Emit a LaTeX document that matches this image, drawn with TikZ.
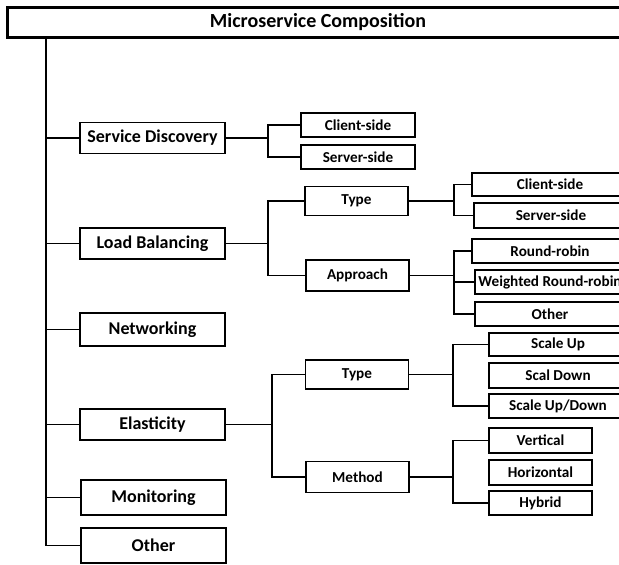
\documentclass[tikz,border=0pt]{standalone}
\usepackage{fontspec}
\setmainfont{Carlito}
\begin{document}
\begin{tikzpicture}[x=1pt,y=-1pt,
  box/.style={draw, line width=1.8pt, inner sep=0pt, font=\bfseries\fontsize{18}{20}\selectfont, minimum width=145pt, minimum height=31pt},
  midbox/.style={draw, line width=1.8pt, inner sep=0pt, font=\bfseries\fontsize{15.2}{17}\selectfont, minimum width=103pt, minimum height=30pt},
  leaf/.style={draw, line width=1.8pt, inner sep=0pt, font=\bfseries\fontsize{15.2}{17}\selectfont, minimum height=24pt},
  conn/.style={line width=1.8pt}]
\useasboundingbox (0,0) rectangle (619,565);
% title
\node[draw, line width=3pt, inner sep=0pt, minimum width=622pt, minimum height=30pt, font=\bfseries\fontsize{20}{22}\selectfont] (title) at (318,22) {Microservice Composition};
% level 1
\node[box] (sd) at (152.5,138) {Service Discovery};
\node[box] (lb) at (152.5,243.5) {Load Balancing};
\node[box, minimum height=33pt] (net) at (152.5,329.5) {Networking};
\node[box] (el) at (152.5,424.5) {Elasticity};
\node[box, minimum height=35pt] (mon) at (153.5,497.5) {Monitoring};
\node[box, minimum height=35pt] (oth) at (153.5,545.5) {Other};
% SD children
\node[leaf, minimum width=114pt] (sdc) at (358,125) {Client-side};
\node[leaf, minimum width=114pt] (sds) at (358,157) {Server-side};
% LB level 2
\node[midbox, minimum height=29pt] (lbt) at (356.5,201) {Type};
\node[midbox, minimum height=31pt] (lba) at (357.5,275.5) {Approach};
% LB type children
\node[leaf, minimum width=156pt, minimum height=23pt] (lbtc) at (550,184.5) {Client-side};
\node[leaf, minimum width=154pt, minimum height=25pt] (lbts) at (551,215.5) {Server-side};
% LB approach children
\node[leaf, minimum width=156pt] (rr) at (550,251) {Round-robin};
\node[leaf, minimum width=150pt] (wrr) at (550,282) {Weighted Round-robin};
\node[leaf, minimum width=150pt] (ao) at (550,314) {Other};
% Elasticity level 2
\node[midbox, minimum height=29pt] (elt) at (357,374.5) {Type};
\node[midbox, minimum height=31pt] (elm) at (357.5,477) {Method};
% Elasticity type children
\node[leaf, minimum width=138pt, minimum height=23pt] (su) at (558,344.5) {Scale Up};
\node[leaf, minimum width=138pt, minimum height=25pt] (sdn) at (558,375.5) {Scal Down};
\node[leaf, minimum width=138pt] (sud) at (558,406) {Scale Up/Down};
% Method children
\node[leaf, minimum width=103pt, minimum height=25pt] (mv) at (540.5,440.5) {Vertical};
\node[leaf, minimum width=103pt, minimum height=25pt] (mh) at (540.5,472.5) {Horizontal};
\node[leaf, minimum width=103pt] (mhy) at (540.5,503) {Hybrid};
% junction coordinates
\coordinate (tr) at (46,0);
\coordinate (j1) at (268,0);
\coordinate (j2) at (454,0);
\coordinate (j3) at (272,0);
\coordinate (j4) at (453,0);
% trunk
\draw[conn] (title.south -| tr) -- (oth.west -| tr) -- (oth.west);
\foreach \n in {sd,lb,net,el,mon} \draw[conn] (\n.west -| tr) -- (\n.west);
% SD
\draw[conn] (sd.east) -- (sd.east -| j1);
\draw[conn] (sdc.west) -- (sdc.west -| j1) -- (sds.west -| j1) -- (sds.west);
% LB
\draw[conn] (lb.east) -- (lb.east -| j1);
\draw[conn] (lbt.west) -- (lbt.west -| j1) -- (lba.west -| j1) -- (lba.west);
\draw[conn] (lbt.east) -- (lbt.east -| j2);
\draw[conn] (lbtc.west) -- (lbtc.west -| j2) -- (lbts.west -| j2) -- (lbts.west);
\draw[conn] (lba.east) -- (lba.east -| j2);
\draw[conn] (wrr.west -| j2) -- (wrr.west);
\draw[conn] (rr.west) -- (rr.west -| j2) -- (ao.west -| j2) -- (ao.west);
% Elasticity
\draw[conn] (el.east) -- (el.east -| j3);
\draw[conn] (elt.west) -- (elt.west -| j3) -- (elm.west -| j3) -- (elm.west);
\draw[conn] (elt.east) -- (elt.east -| j4);
\draw[conn] (su.west) -- (su.west -| j4) -- (sud.west -| j4) -- (sud.west);
\draw[conn] (elm.east) -- (elm.east -| j4);
\draw[conn] (mv.west) -- (mv.west -| j4) -- (mhy.west -| j4) -- (mhy.west);
\end{tikzpicture}
\end{document}
